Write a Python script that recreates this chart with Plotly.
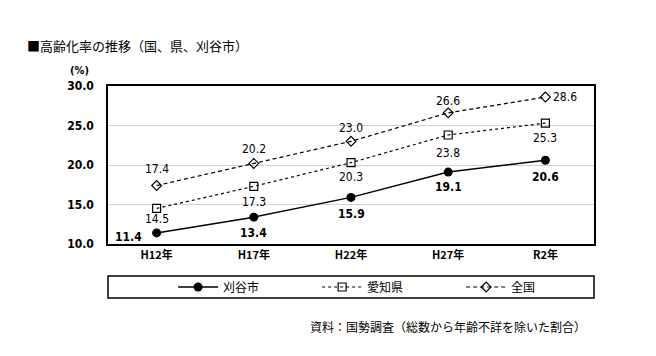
import plotly.graph_objects as go

categories = ["H12年", "H17年", "H22年", "H27年", "R2年"]
kariya = [11.4, 13.4, 15.9, 19.1, 20.6]
aichi = [14.5, 17.3, 20.3, 23.8, 25.3]
zenkoku = [17.4, 20.2, 23.0, 26.6, 28.6]
y_ticks = [10.0, 15.0, 20.0, 25.0, 30.0]

# label offsets in px (x, y upward positive)
kariya_off = [(-28, -4), (0, -16), (0, -17), (0, -15), (0, -17)]
aichi_off = [(0, -11), (0, -16), (0, -14), (0, -18), (0, -15)]
zenkoku_off = [(0, 17), (0, 14), (0, 13), (0, 12), (20, 0)]

num_font = "DejaVu Sans Condensed, Roboto, sans-serif"
jp_font = "Noto Sans CJK JP, sans-serif"

fig = go.Figure()
fig.add_trace(go.Scatter(
    x=categories, y=kariya, name="刈谷市", mode="lines+markers",
    line=dict(color="black", width=1.5),
    marker=dict(symbol="circle", size=9, color="black"),
))
fig.add_trace(go.Scatter(
    x=categories, y=aichi, name="愛知県", mode="lines+markers",
    line=dict(color="black", width=1.2, dash="dot"),
    marker=dict(symbol="square-open", size=8, color="black", line=dict(width=1.2)),
))
fig.add_trace(go.Scatter(
    x=categories, y=zenkoku, name="全国", mode="lines+markers",
    line=dict(color="black", width=1.2, dash="4px,3px"),
    marker=dict(symbol="diamond-open", size=7.5, color="black", line=dict(width=1.2)),
))

label_anns = []
for vals, offs, bold in [(kariya, kariya_off, True), (aichi, aichi_off, False), (zenkoku, zenkoku_off, False)]:
    for c, v, (dx, dy) in zip(categories, vals, offs):
        label_anns.append(dict(
            x=c, y=v, xref="x", yref="y", text=f"{v:.1f}", showarrow=False,
            xshift=dx, yshift=dy, xanchor="center", yanchor="middle",
            font=dict(family=num_font, size=12, color="black", weight="bold" if bold else "normal"),
        ))

fig.update_layout(
    width=656, height=356,
    margin=dict(l=100, r=70, t=78, b=120, autoexpand=False),
    plot_bgcolor="white", paper_bgcolor="white",
    showlegend=True,
    legend=dict(
        orientation="h", x=0.134, xanchor="left", y=-0.272, yanchor="middle",
        font=dict(family=jp_font, size=12, color="black"),
        entrywidth=89, itemwidth=40,
        bgcolor="rgba(0,0,0,0)",
    ),
    xaxis=dict(
        type="category", range=[-0.5, 4.5], showgrid=False,
        showline=True, linecolor="black", linewidth=1.5, mirror=True,
        ticks="", tickfont=dict(family=jp_font, size=11, color="black", weight="bold"),
    ),
    yaxis=dict(
        range=[10, 30], tickvals=y_ticks, ticktext=[f"{v:.1f}" for v in y_ticks],
        showgrid=True, gridcolor="#d0d0d0", gridwidth=1,
        showline=True, linecolor="black", linewidth=1.5, mirror=True,
        ticks="", ticklabelstandoff=10,
        tickfont=dict(family=num_font, size=12, color="black", weight="bold"),
        zeroline=False,
    ),
    shapes=[dict(type="rect", xref="paper", yref="paper",
                 x0=0, x1=1, y0=-0.342, y1=-0.203,
                 line=dict(color="black", width=1.5))],
    annotations=label_anns + [
        dict(text="■高齢化率の推移（国、県、刈谷市）", xref="paper", yref="paper",
             x=-0.171, y=1.259, xanchor="left", yanchor="middle", showarrow=False,
             font=dict(family=jp_font, size=13, color="black")),
        dict(text="(%)", xref="paper", yref="paper",
             x=-0.058, y=1.10, xanchor="center", yanchor="middle", showarrow=False,
             font=dict(family=num_font, size=11, color="black", weight="bold")),
        dict(text="資料：国勢調査（総数から年齢不詳を除いた割合）", xref="paper", yref="paper",
             x=0.988, y=-0.525, xanchor="right", yanchor="middle", showarrow=False,
             font=dict(family=jp_font, size=12, color="black")),
    ],
)

fig.write_html("out.html")
